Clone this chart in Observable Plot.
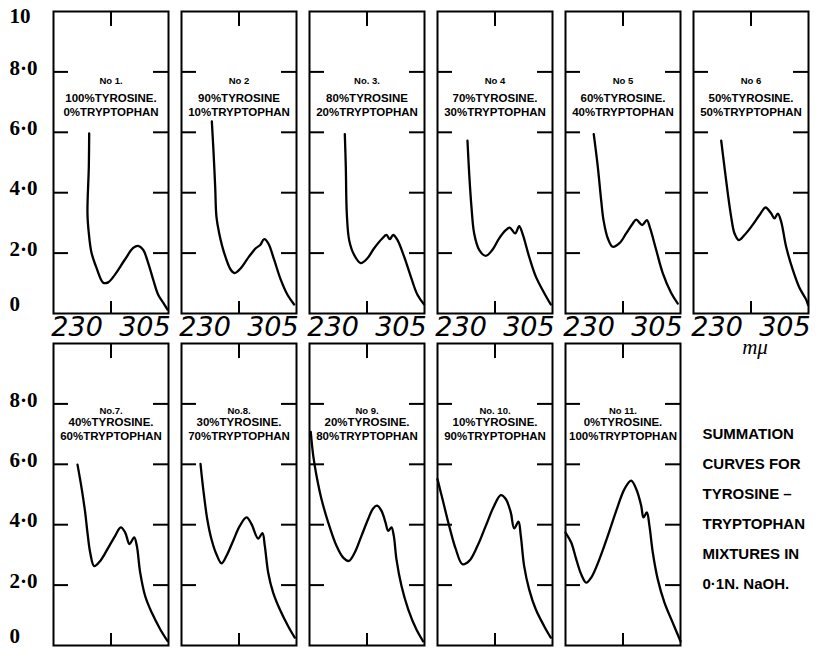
<!DOCTYPE html>
<html><head><meta charset="utf-8">
<script src="https://cdn.jsdelivr.net/npm/d3@7"></script>
<script src="https://cdn.jsdelivr.net/npm/@observablehq/plot@0.6"></script>
<style>
body{margin:0;background:#fff}
#chart{width:819px;height:648px}
</style>
</head><body><div id="chart"></div>
<script>
// Absorbance curves: [wavelength (mμ), optical density]
const no1 = [[243.4,5.96],[243.0,4.85],[241.5,3.32],[243.0,2.66],[246.0,2.01],[251.5,1.51],[258.9,1.02],[264.4,1.03],[271.7,1.28],[282.7,1.78],[292.0,2.17],[297.5,2.24],[303.0,2.11],[308.5,1.68],[314.1,1.12],[319.6,0.62],[325.1,0.36],[329.9,0.13]];
const no2 = [[237.5,6.36],[239.3,5.39],[241.2,4.19],[242.6,3.20],[245.6,2.66],[251.1,2.01],[258.4,1.45],[262.8,1.34],[269.5,1.50],[278.7,1.89],[286.0,2.16],[290.9,2.27],[295.3,2.46],[299.7,2.33],[306.3,1.78],[313.6,1.12],[321.0,0.62],[328.4,0.30]];
const no3 = [[243.0,5.94],[244.1,4.85],[245.2,3.31],[247.8,2.43],[253.3,1.94],[260.6,1.67],[268.0,1.83],[275.4,2.16],[284.6,2.49],[289.0,2.60],[292.7,2.46],[296.4,2.60],[301.2,2.43],[308.5,1.88],[315.8,1.23],[323.2,0.62],[330.6,0.30]];
const no4 = [[237.1,5.72],[239.0,4.63],[241.5,3.53],[244.5,2.65],[250.0,2.11],[257.3,1.91],[264.7,2.11],[272.1,2.49],[279.4,2.76],[283.8,2.84],[289.8,2.65],[294.2,2.89],[297.8,2.65],[305.2,1.88],[312.5,1.23],[321.8,0.68],[329.1,0.30]];
const no5 = [[235.2,5.94],[239.7,4.85],[243.4,3.75],[246.0,3.09],[250.7,2.49],[256.2,2.21],[263.6,2.33],[271.0,2.65],[278.3,2.98],[282.1,3.11],[288.7,2.93],[293.8,3.09],[297.5,2.82],[304.1,2.11],[311.4,1.34],[320.7,0.68],[328.0,0.33]];
const no6 = [[234.6,5.72],[238.2,4.85],[241.9,3.97],[245.6,3.20],[249.3,2.65],[254.0,2.43],[260.3,2.60],[267.7,2.87],[276.9,3.26],[283.5,3.51],[289.8,3.31],[293.4,3.15],[297.1,3.31],[300.8,3.04],[306.3,2.21],[313.6,1.45],[321.0,0.85],[328.4,0.46],[330.5,0.28]];
const no7 = [[230.5,5.99],[235.2,5.18],[239.0,4.40],[241.5,3.74],[244.5,3.08],[248.9,2.63],[255.6,2.80],[264.7,3.25],[272.1,3.63],[278.3,3.91],[283.2,3.74],[287.9,3.36],[293.1,3.58],[296.0,3.30],[299.7,2.42],[305.2,1.64],[312.5,1.09],[321.8,0.54],[329.9,0.15]];
const no8 = [[225.0,6.01],[228.0,5.18],[232.4,4.19],[237.1,3.52],[242.6,3.02],[248.2,2.72],[253.7,2.97],[261.1,3.47],[268.4,3.96],[275.8,4.24],[281.3,4.02],[288.7,3.54],[293.4,3.72],[296.0,3.30],[299.7,2.42],[305.2,1.75],[312.5,1.20],[321.8,0.64],[329.1,0.26]];
const no9 = [[205.4,7.07],[208.1,6.29],[211.7,5.63],[217.2,4.85],[224.6,4.08],[233.8,3.30],[241.2,2.91],[247.4,2.80],[254.0,3.08],[261.4,3.63],[268.8,4.19],[274.3,4.54],[278.7,4.63],[283.5,4.46],[287.9,4.08],[290.9,3.80],[294.5,3.91],[297.1,3.63],[300.0,2.86],[305.6,1.97],[313.0,1.20],[322.1,0.53],[329.5,0.14]];
const no10 = [[204.0,5.51],[209.5,4.85],[216.9,3.96],[224.2,3.19],[231.6,2.69],[239.0,2.80],[248.2,3.30],[257.3,3.96],[266.6,4.63],[273.9,4.98],[279.4,4.85],[284.9,4.41],[288.7,3.88],[293.4,4.10],[296.0,3.63],[299.7,2.63],[305.2,1.86],[312.5,1.20],[321.8,0.64],[329.1,0.26]];
const no11 = [[204.0,3.74],[210.3,3.41],[215.8,2.86],[221.3,2.36],[226.9,2.08],[232.4,2.25],[241.5,2.86],[250.7,3.63],[260.0,4.46],[269.1,5.18],[276.5,5.46],[282.1,5.18],[287.6,4.63],[290.1,4.24],[293.8,4.41],[296.7,3.96],[300.4,3.08],[305.9,2.19],[313.3,1.42],[322.5,0.75],[331.0,0.14]];

const panelNumbers = ["No 1.","No 2","No. 3.","No 4","No 5","No 6","No.7.","No.8.","No 9.","No. 10.","No 11."];
const tyrosinePct = [100,90,80,70,60,50,40,30,20,10,0];
const tryptophanPct = [0,10,20,30,40,50,60,70,80,90,100];
const tyrosineStop = [".","","",".",".",".",".",".",".",".","."];
const yTickValues = [0,2,4,6,8,10];
const yTickLabels = ["0","2·0","4·0","6·0","8·0","10"];
const yInnerTicks = [2,4,6,8];
const xTickValues = [230,305];
const xTickLabels = ["230","305"];
const xMidTick = [267.5];
const unitLabel = "mμ";
const captionLines = ["SUMMATION","CURVES FOR","TYROSINE –","TRYPTOPHAN","MIXTURES IN","0·1N. NaOH."];

const curves = [no1,no2,no3,no4,no5,no6,no7,no8,no9,no10,no11];
const NCOL = 6;
const colOf = i => i % NCOL, rowOf = i => Math.floor(i / NCOL);
const points = curves.flatMap((c, i) => c.map(([wl, a]) => ({panel: i, col: colOf(i), row: rowOf(i), wl, a})));
const panels = panelNumbers.map((n, i) => ({
  col: colOf(i), row: rowOf(i), n,
  comp: `${tyrosinePct[i]}%TYROSINE${tyrosineStop[i]}\n${tryptophanPct[i]}%TRYPTOPHAN`
}));
const yLabels = [0, 1].flatMap(r => yTickValues.map((v, k) => ({row: r, col: 0, v, label: yTickLabels[k]}))
  .filter(d => !(r === 1 && d.v === 10)));
const xLabels = d3.range(NCOL).flatMap(c => xTickValues.map((v, k) => ({row: 0, col: c, v, label: xTickLabels[k]})));

const labelFont = "Liberation Sans, Arial, sans-serif";
const serif = "Liberation Serif, Times New Roman, serif";

const chart = Plot.plot({
  width: 819, height: 648,
  marginLeft: 52, marginRight: 9, marginTop: 10, marginBottom: 2,
  x: {domain: [204, 331], axis: null},
  y: {domain: [0, 10], axis: null},
  fx: {domain: d3.range(NCOL), axis: null, paddingInner: 0.1, paddingOuter: 0},
  fy: {domain: [0, 1], axis: null, paddingInner: 0.09, paddingOuter: 0},
  style: {background: "white", color: "black", overflow: "visible"},
  marks: [
    Plot.frame({stroke: "black", strokeWidth: 2}),
    Plot.tickY(yInnerTicks, {y: d => d, insetRight: 100, strokeWidth: 2}),
    Plot.tickY(yInnerTicks, {y: d => d, insetLeft: 100, strokeWidth: 2}),
    Plot.tickX(xMidTick, {x: d => d, insetBottom: 287, strokeWidth: 2}),
    Plot.tickX(xMidTick, {x: d => d, insetTop: 290, strokeWidth: 2}),
    Plot.line(points, {x: "wl", y: "a", z: "panel", fx: "col", fy: "row", curve: "catmull-rom", stroke: "black", strokeWidth: 2.3}),
    // panel titles
    Plot.text(panels.filter(d => d.row === 0), {fx: "col", fy: "row", text: "n", frameAnchor: "top", lineAnchor: "top", dy: 66, fontSize: 9.5, fontWeight: "bold", fontFamily: labelFont}),
    Plot.text(panels.filter(d => d.row === 1), {fx: "col", fy: "row", text: "n", frameAnchor: "top", lineAnchor: "top", dy: 64, fontSize: 9.5, fontWeight: "bold", fontFamily: labelFont}),
    Plot.text(panels.filter(d => d.row === 0), {fx: "col", fy: "row", text: "comp", frameAnchor: "top", lineAnchor: "top", dy: 81, lineHeight: 1.17, fontSize: 11.5, fontWeight: "bold", fontFamily: labelFont}),
    Plot.text(panels.filter(d => d.row === 1), {fx: "col", fy: "row", text: "comp", frameAnchor: "top", lineAnchor: "top", dy: 73, lineHeight: 1.17, fontSize: 11.5, fontWeight: "bold", fontFamily: labelFont}),
    // y tick labels
    Plot.text(yLabels.filter(d => d.v > 0 && d.v < 10), {fx: "col", fy: "row", y: "v", text: "label", frameAnchor: "left", textAnchor: "start", dx: -44, dy: -4, fontSize: 21, fontWeight: "bold", fontFamily: serif}),
    Plot.text(yLabels.filter(d => d.v === 0), {fx: "col", fy: "row", y: "v", text: "label", frameAnchor: "left", textAnchor: "start", dx: -44, dy: -9, fontSize: 21, fontWeight: "bold", fontFamily: serif}),
    Plot.text(yLabels.filter(d => d.v === 10), {fx: "col", fy: "row", y: "v", text: "label", frameAnchor: "left", textAnchor: "start", dx: -44, dy: 5, fontSize: 21, fontWeight: "bold", fontFamily: serif}),
    // x tick labels under first row
    Plot.text(xLabels, {fx: "col", fy: "row", x: "v", text: "label", frameAnchor: "bottom", dy: 22, fontSize: 27, fontStyle: "italic", fontWeight: 300, fontFamily: "DejaVu Sans, sans-serif"}),
    Plot.text([{col: 5, row: 0}], {fx: "col", fy: "row", text: () => unitLabel, frameAnchor: "bottom", dy: 40, dx: 4, fontSize: 21, fontStyle: "italic", fontFamily: serif}),
    // caption block (sits in the empty lower-right cell)
    Plot.text([{col: 5, row: 0, t: captionLines.join("\n")}], {fx: "col", fy: "row", text: "t", frameAnchor: "bottom-left", textAnchor: "start", lineAnchor: "top", dx: 9, dy: 104, lineHeight: 2, fontSize: 15, fontWeight: "bold", fontFamily: labelFont})
  ]
});
document.getElementById("chart").appendChild(chart);
</script>
</body></html>
